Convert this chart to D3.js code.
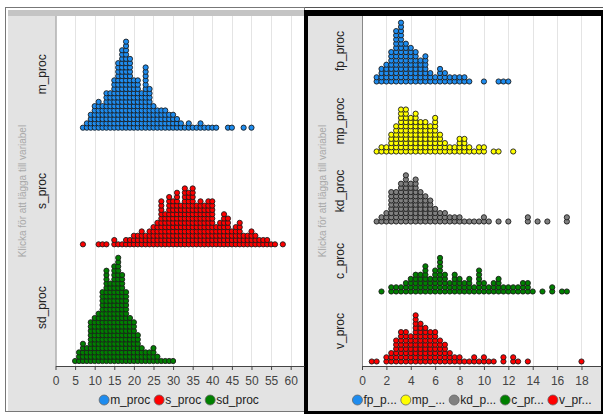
<!DOCTYPE html>
<html>
<head>
<meta charset="utf-8">
<script src="https://cdn.jsdelivr.net/npm/d3@7"></script>
<style>
body { margin: 0; background: #fff; }
svg { display: block; font-family: "Liberation Sans", Arial, sans-serif; }
</style>
</head>
<body>
<script>
// dot counts per bin
// left graph: bins of 1 unit
var leftNames = ["m_proc", "s_proc", "sd_proc"];
var leftColors = ["#1e8cef", "#ff0000", "#008000"];
var leftTicks = [0, 5, 10, 15, 20, 25, 30, 35, 40, 45, 50, 55, 60];

var mStart = 7;
var mCounts = [1,2,4,6,7,6,9,9,12,16,19,21,17,12,12,9,15,10,6,5,5,5,4,4,3,2,1,2,1,1,2,1,1,1,1,0,0,1,1,0,0,1,0,1];
var sStart = 7;
var sCounts = [1,0,0,0,1,1,1,0,2,1,1,2,2,3,3,4,3,4,5,6,11,8,12,11,13,10,14,13,14,10,11,10,11,11,5,6,8,7,4,5,6,3,3,4,3,2,2,2,1,1,0,1];
var sdStart = 5;
var sdCounts = [1,3,5,4,10,11,12,17,22,19,23,25,21,17,11,10,7,4,3,3,4,2,1,1,1,1];

// right graph: bins of 0.4 units
var rightNames = ["fp_proc", "mp_proc", "kd_proc", "c_proc", "v_proc"];
var rightLegend = ["fp_p...", "mp_...", "kd_p...", "c_pr...", "v_pr..."];
var rightColors = ["#1e8cef", "#ffff00", "#808080", "#008000", "#ff0000"];
var rightTicks = [0, 2, 4, 6, 8, 10, 12, 14, 16, 18];

var fpStart = 1.2;
var fpCounts = [2,4,5,8,13,15,10,9,8,6,7,3,2,4,3,2,2,2,2,1,0,0,1,0,0,1,1,1];
var mpStart = 1.2;
var mpCounts = [1,2,2,5,7,11,11,9,10,8,8,7,9,5,3,2,2,4,4,2,1,2,2,0,1,1,0,0,1];
var kdStart = 1.2;
var kdCounts = [1,2,3,8,8,10,12,10,11,8,7,6,4,3,3,2,2,2,1,1,1,1,2,1,0,1,0,1,0,0,0,2,0,1,0,1,0,0,0,2];
var cStart = 1.6;
var cCounts = [1,0,2,2,2,3,4,5,5,7,4,6,9,5,3,5,4,3,4,2,6,3,2,3,4,2,2,2,2,3,3,1,0,1,0,2,0,1,1];
var vStart = 0.8;
var vCounts = [1,1,0,2,3,6,8,8,7,12,10,9,8,8,6,5,3,2,2,1,1,2,1,2,1,1,0,2,0,2,1,0,1,0,0,0,0,0,0,0,0,0,0,1];

var W = 603, H = 414;
var svg = d3.select("body").append("svg")
	.attr("width", W)
	.attr("height", H);

// thin line along the top of both graphs
svg.append("line")
	.attr("x1", 5).attr("x2", W)
	.attr("y1", 7.5).attr("y2", 7.5)
	.attr("stroke", "#555");

// left graph frame
svg.append("rect")
	.attr("x", 5.5).attr("y", 7.5)
	.attr("width", 299).attr("height", 404)
	.attr("fill", "#fff")
	.attr("stroke", "#777");
svg.append("rect")
	.attr("x", 8).attr("y", 10)
	.attr("width", 296).attr("height", 6)
	.attr("fill", "#c4c4c4");
svg.append("rect")
	.attr("x", 8).attr("y", 16)
	.attr("width", 296).attr("height", 395)
	.attr("fill", "#e3e3e3");

// right graph frame (selected -> black)
svg.append("rect")
	.attr("x", 304).attr("y", 10)
	.attr("width", W - 304).attr("height", H - 10)
	.attr("fill", "#000");
svg.append("rect")
	.attr("x", 308).attr("y", 16)
	.attr("width", 293).attr("height", 395)
	.attr("fill", "#e3e3e3");

function drawGraph(cfg) {
	var x = d3.scaleLinear().domain(cfg.domain).range([cfg.left, cfg.right]);
	var y = d3.scaleBand().domain(cfg.names).range([16, 366]);

	var g = svg.append("g");

	// plot area
	g.append("rect")
		.attr("x", cfg.left).attr("y", 16)
		.attr("width", cfg.right - cfg.left).attr("height", 350)
		.attr("fill", "#fff");

	// grid lines
	g.selectAll(".grid")
		.data(cfg.ticks.filter(function(d) { return d > 0; }))
		.enter().append("line")
		.attr("x1", function(d) { return Math.round(x(d)) + 0.5; })
		.attr("x2", function(d) { return Math.round(x(d)) + 0.5; })
		.attr("y1", 16).attr("y2", 366)
		.attr("stroke", "#e4e4e4");

	// vertical axis line
	g.append("line")
		.attr("x1", cfg.left + 0.5).attr("x2", cfg.left + 0.5)
		.attr("y1", 16).attr("y2", 366)
		.attr("stroke", "#888");

	// x axis
	var axis = g.append("g")
		.attr("transform", "translate(0,366)")
		.call(d3.axisBottom(x).tickValues(cfg.ticks).tickSize(4).tickSizeOuter(0).tickPadding(6));
	axis.select(".domain").attr("stroke", "#444");
	axis.selectAll(".tick line").attr("stroke", "#444");
	axis.selectAll(".tick text")
		.attr("fill", "#444")
		.style("font-size", "12px")
		.style("font-family", "Liberation Sans, Arial, sans-serif");

	// the dots, stacked from the bottom of each band
	cfg.series.forEach(function(s, si) {
		var dots = [];
		s.counts.forEach(function(n, i) {
			for (var k = 0; k < n; k++) {
				dots.push({ v: s.start + i * cfg.bin, k: k });
			}
		});
		var base = y(s.name) + y.bandwidth() - cfg.baseGap;
		g.append("g").selectAll("circle")
			.data(dots)
			.enter().append("circle")
			.attr("cx", function(d) { return x(d.v); })
			.attr("cy", function(d) { return base - d.k * cfg.stepY; })
			.attr("r", 2.6)
			.attr("fill", s.color)
			.attr("stroke", "#1c1c1c")
			.attr("stroke-width", 0.9);
	});

	// category labels
	g.selectAll(".cat")
		.data(cfg.names)
		.enter().append("text")
		.attr("transform", function(d) {
			return "translate(" + cfg.catX + "," + (y(d) + y.bandwidth() / 2) + ") rotate(-90)";
		})
		.attr("text-anchor", "middle")
		.attr("dy", "0.35em")
		.attr("fill", "#222")
		.style("font-size", "12px")
		.text(function(d) { return d; });

	// hint in the empty y gutter
	g.append("text")
		.attr("transform", "translate(" + cfg.hintX + ",191) rotate(-90)")
		.attr("text-anchor", "middle")
		.attr("dy", "0.35em")
		.attr("fill", "#a9a9a9")
		.style("font-size", "10px")
		.text("Klicka för att lägga till variabel");

	// legend
	var leg = g.append("g").attr("transform", "translate(0,400)");
	var pos = 0;
	cfg.series.forEach(function(s, i) {
		var item = leg.append("g").attr("transform", "translate(" + pos + ",0)");
		item.append("circle")
			.attr("cx", 5).attr("cy", 0).attr("r", 5)
			.attr("fill", s.color)
			.attr("stroke", "#666")
			.attr("stroke-width", 0.8);
		var t = item.append("text")
			.attr("x", 11).attr("dy", "0.35em")
			.attr("fill", "#222")
			.style("font-size", "12px")
			.text(cfg.legend[i]);
		pos += 11 + t.node().getComputedTextLength() + 4;
	});
	pos -= 4;
	leg.attr("transform", "translate(" + (cfg.legendCenter - pos / 2) + ",400)");
}

drawGraph({
	names: leftNames,
	legend: leftNames,
	ticks: leftTicks,
	domain: [0, 63.4],
	left: 55.5, right: 304,
	bin: 1, stepY: 4.3, baseGap: 5,
	catX: 42, hintX: 22,
	legendCenter: 179,
	series: [
		{ name: "m_proc", color: leftColors[0], start: mStart, counts: mCounts },
		{ name: "s_proc", color: leftColors[1], start: sStart, counts: sCounts },
		{ name: "sd_proc", color: leftColors[2], start: sdStart, counts: sdCounts }
	]
});

drawGraph({
	names: rightNames,
	legend: rightLegend,
	ticks: rightTicks,
	domain: [0, 19.6],
	left: 362, right: 601,
	bin: 0.4, stepY: 4.2, baseGap: 4.5,
	catX: 340, hintX: 322,
	legendCenter: 472,
	series: [
		{ name: "fp_proc", color: rightColors[0], start: fpStart, counts: fpCounts },
		{ name: "mp_proc", color: rightColors[1], start: mpStart, counts: mpCounts },
		{ name: "kd_proc", color: rightColors[2], start: kdStart, counts: kdCounts },
		{ name: "c_proc", color: rightColors[3], start: cStart, counts: cCounts },
		{ name: "v_proc", color: rightColors[4], start: vStart, counts: vCounts }
	]
});
</script>
</body>
</html>
